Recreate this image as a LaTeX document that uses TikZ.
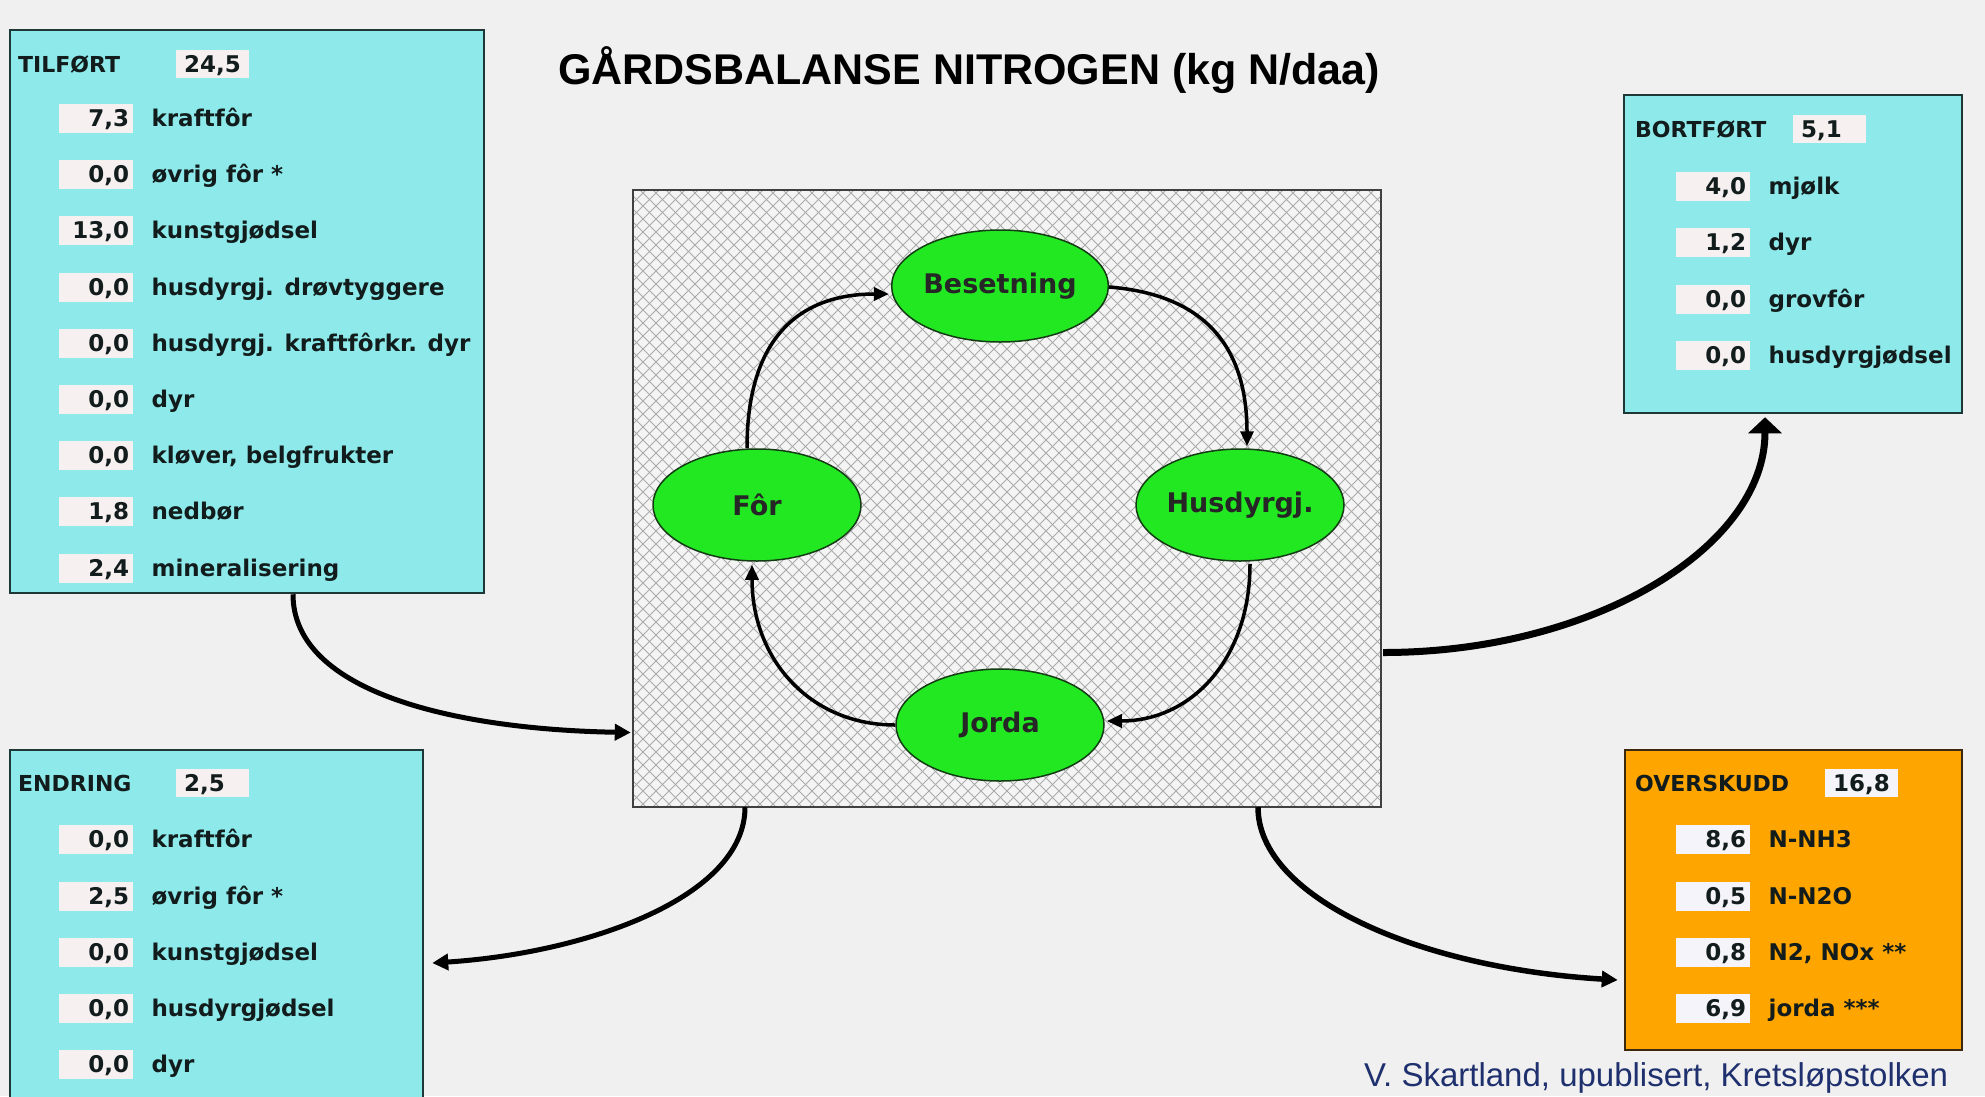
\documentclass[tikz,border=0pt]{standalone}
\usepackage{fontspec}
\setmainfont{DejaVu Sans}
\newfontfamily\arialf{Liberation Sans}
\usetikzlibrary{shapes.geometric,arrows.meta,calc}
\definecolor{bgc}{RGB}{240,240,240}
\definecolor{cyanbox}{RGB}{142,234,234}
\definecolor{boxline}{RGB}{30,55,55}
\definecolor{valfill}{RGB}{246,240,240}
\definecolor{orangebox}{RGB}{255,165,0}
\definecolor{orangeline}{RGB}{60,40,10}
\definecolor{oval}{RGB}{244,244,250}
\definecolor{greenell}{RGB}{34,232,34}
\definecolor{greenline}{RGB}{20,60,20}
\definecolor{txt}{RGB}{18,28,28}
\definecolor{hubfill}{RGB}{244,244,244}
\definecolor{hatchc}{RGB}{170,170,170}
\definecolor{credc}{RGB}{31,48,110}
\newcommand\rowfont{\bfseries\fontsize{23}{27}\selectfont}
\newcommand\hdrfont{\bfseries\fontsize{22}{26}\selectfont}
\newcommand\elfont{\bfseries\fontsize{27}{32}\selectfont}
\newcommand\vrow[5]{%
  \node[valbox,anchor=west] (#1v) at (#2,#3) {#4};
  \node[lbl,anchor=west] (#1l) at ($(#1v.east)+(18,0)$) {#5};
}
\begin{document}
\begin{tikzpicture}[x=1pt,y=-1pt,
  panel/.style={draw=boxline,line width=2.5pt,fill=cyanbox,inner sep=0pt},
  opanel/.style={draw=orangeline,line width=2.5pt,fill=orangebox,inner sep=0pt},
  valbox/.style={fill=valfill,minimum height=29pt,text width=66pt,inner xsep=4pt,inner ysep=0pt,
    align=right,font=\rowfont,text=txt,text height=17pt,text depth=0pt},
  hval/.style={valbox,minimum height=28pt,text width=57pt,inner xsep=8pt,align=left},
  lbl/.style={inner sep=0pt,font=\rowfont,text=txt,text height=17pt,text depth=0pt},
  hdr/.style={inner sep=0pt,font=\hdrfont,text=txt,text height=17pt,text depth=0pt,anchor=west},
  cyc/.style={ellipse,draw=greenline,line width=1.5pt,fill=greenell,minimum width=208pt,
    minimum height=112pt,inner sep=0pt,font=\elfont,text=black!85},
  inarrow/.style={line width=3.5pt,-{Triangle[length=15pt,width=13pt]}},
  outarrow/.style={line width=5pt,-{Triangle[length=16pt,width=16pt]}}
]
\useasboundingbox (0,0) rectangle (1985,1096);
\fill[bgc] (0,0) rectangle (1985,1096);
\begin{scope}
\clip (0,0) rectangle (1985,1096);

% title
\node[anchor=base west,inner sep=0pt,font=\arialf\bfseries\fontsize{43}{50}\selectfont,text=black]
  (title) at (558,84) {GÅRDSBALANSE NITROGEN (kg N/daa)};

% central hatched box
\node[minimum width=748pt,minimum height=617pt,inner sep=0pt,fill=hubfill] (hub) at (1007,498.5) {};
\begin{scope}
  \clip (hub.north west) rectangle (hub.south east);
  \foreach \c in {0,13,...,1372} {
    \draw[hatchc,line width=1pt] (16+\c,190) -- ++(620,620);
    \draw[hatchc,line width=1pt] (633+\c,190) -- ++(-620,620);
  }
\end{scope}
\draw[black!75,line width=2pt] (hub.north west) rectangle (hub.south east);

% cycle
\node[cyc] (bes) at (1000,286) {Besetning};
\node[cyc] (for) at (757,505) {Fôr};
\node[cyc] (hus) at (1240,505) {Husdyrgj.};
\node[cyc] (jor) at (1000,725) {Jorda};

\draw[inarrow] ($(for.north)+(-10,0)$) .. controls +(0,-110) and +(-90,0) .. ($(bes.west)+(-2,8)$);
\draw[inarrow] ($(bes.east)+(0,1)$) .. controls +(100,8) and +(0,-95) .. ($(hus.north)+(7,-2)$);
\draw[inarrow] ($(hus.south)+(10,2)$) .. controls +(0,95) and +(85,0) .. ($(jor.east)+(2,-4)$);
\draw[inarrow] (jor.west) .. controls +(-85,0) and +(0,95) .. ($(for.south)+(-5,3)$);

% panels
\node[panel,minimum width=474pt,minimum height=563pt] (tilf) at (247,311.5) {};
\node[panel,minimum width=413pt,minimum height=360pt] (endr) at (216.5,930) {};
\node[panel,minimum width=338pt,minimum height=318pt] (bort) at (1793,254) {};
\node[opanel,minimum width=337pt,minimum height=300pt] (over) at (1793.5,900) {};

% TILFØRT
\node[hdr] (th) at (18,64) {TILFØRT};
\node[hval,anchor=west] (thv) at (176,64) {24,5};
\vrow{t1}{59}{118}{7,3}{kraftfôr}
\vrow{t2}{59}{174}{0,0}{øvrig fôr *}
\vrow{t3}{59}{230}{13,0}{kunstgjødsel}
\vrow{t4}{59}{287}{0,0}{husdyrgj. drøvtyggere}
\vrow{t5}{59}{343}{0,0}{husdyrgj. kraftfôrkr. dyr}
\vrow{t6}{59}{399}{0,0}{dyr}
\vrow{t7}{59}{455}{0,0}{kløver, belgfrukter}
\vrow{t8}{59}{511}{1,8}{nedbør}
\vrow{t9}{59}{568}{2,4}{mineralisering}

% ENDRING
\node[hdr] (eh) at (18,783) {ENDRING};
\node[hval,anchor=west] (ehv) at (176,783) {2,5};
\vrow{e1}{59}{839}{0,0}{kraftfôr}
\vrow{e2}{59}{896}{2,5}{øvrig fôr *}
\vrow{e3}{59}{952}{0,0}{kunstgjødsel}
\vrow{e4}{59}{1008}{0,0}{husdyrgjødsel}
\vrow{e5}{59}{1064}{0,0}{dyr}

% BORTFØRT
\node[hdr] (bh) at (1635,129) {BORTFØRT};
\node[hval,anchor=west] (bhv) at (1793,129) {5,1};
\vrow{b1}{1676}{186}{4,0}{mjølk}
\vrow{b2}{1676}{242}{1,2}{dyr}
\vrow{b3}{1676}{299}{0,0}{grovfôr}
\vrow{b4}{1676}{355}{0,0}{husdyrgjødsel}

% OVERSKUDD
\tikzset{valbox/.append style={fill=oval},hval/.append style={fill=oval}}
\node[hdr] (oh) at (1635,783) {OVERSKUDD};
\node[hval,anchor=west] (ohv) at (1825,783) {16,8};
\vrow{o1}{1676}{839}{8,6}{N-NH3}
\vrow{o2}{1676}{896}{0,5}{N-N2O}
\vrow{o3}{1676}{952}{0,8}{N2, NOx **}
\vrow{o4}{1676}{1008}{6,9}{jorda ***}

% outer flows
\draw[outarrow] ($(tilf.south)+(46,0)$) .. controls +(0,100) and +(-170,-3) .. ($(hub.west)+(-2,234)$);
\draw[line width=7pt,-{Triangle[length=16pt,width=33pt]}] ($(hub.east)+(2,154)$) .. controls +(210,0) and +(0,130) .. ($(bort.south)+(-28,3)$);
\draw[outarrow] ($(hub.south)+(-262,0)$) .. controls +(0,90) and +(155,-10) .. ($(endr.east)+(8,33)$);
\draw[outarrow,line width=5.5pt] ($(hub.south)+(251,0)$) .. controls +(0,90) and +(-200,-12) .. ($(over.west)+(-6,80)$);

% credit
\node[anchor=base west,inner sep=0pt,font=\arialf\fontsize{33}{40}\selectfont,text=credc]
  (cred) at (1364,1086) {V. Skartland, upublisert, Kretsløpstolken};
\end{scope}
\end{tikzpicture}
\end{document}
